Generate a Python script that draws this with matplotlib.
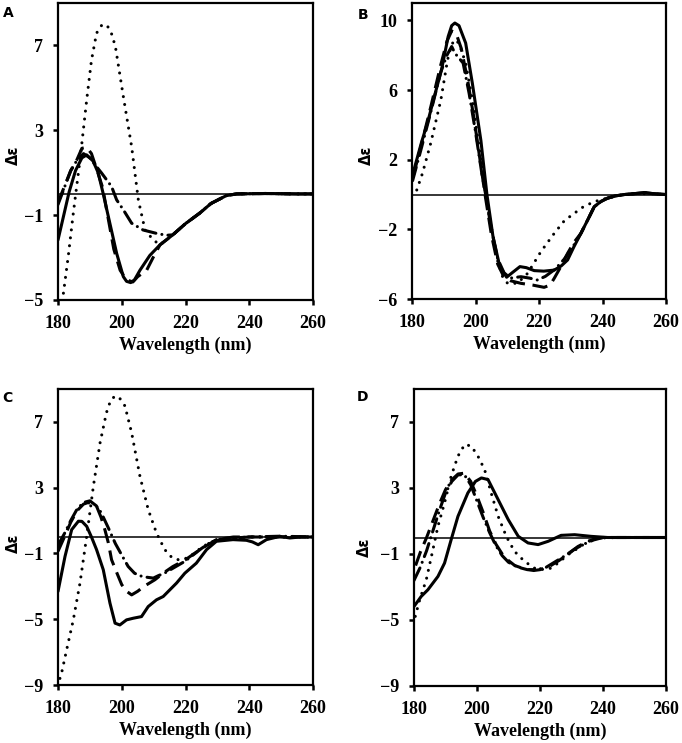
import numpy as np
import matplotlib
matplotlib.use('Agg')
import matplotlib.pyplot as plt

# ---- panel A ----
a_tail_x = [212, 216, 220, 224.5, 228, 232.8, 236, 245, 255, 260]
a_tail_y = [-2.4, -1.93, -1.4, -0.9, -0.45, -0.08, 0.0, 0.02, 0.0, 0.0]
a_solid_x = [180, 181.5, 183.5, 185.5, 187.5, 189, 191, 192.6, 194.2, 195.8, 198.4, 200.5, 201.5, 202.8, 204, 205.7, 208.8] + a_tail_x
a_solid_y = [-2.17, -1.2, 0.1, 1.1, 1.7, 1.84, 1.55, 1.0, 0.0, -1.07, -2.8, -3.9, -4.12, -4.18, -4.05, -3.6, -2.9] + a_tail_y
a_dot_x = [181.7, 183.2, 184.8, 186.9, 189, 190.5, 192.1, 193.7, 195.3, 196.7, 198, 200.5, 203.1, 205.2, 207.3, 209.9] + a_tail_x
a_dot_y = [-4.68, -2.96, -0.91, 1.6, 4.43, 6.3, 7.58, 7.95, 7.97, 7.6, 6.95, 4.59, 2.23, -0.28, -1.7, -2.17] + a_tail_y
a_dash_x = [180, 182.2, 184, 185.9, 187.5, 189, 190.5, 192.5, 194, 195.8, 197.5, 199.5, 201.5, 203.5, 205, 207.8, 210] + a_tail_x
a_dash_y = [-0.4, 0.42, 1.1, 1.6, 2.15, 2.2, 1.9, 1.0, 0.3, -1.2, -2.6, -3.6, -4.05, -4.15, -3.9, -3.6, -2.95] + a_tail_y
a_dd_x = [180, 182, 184, 186, 188, 190, 192, 193.7, 196.8, 198.4, 200.5, 203.1, 206.7, 210.9, 214] + a_tail_x[1:]
a_dd_y = [-0.5, 0.3, 1.1, 1.6, 1.9, 1.7, 1.3, 0.98, 0.35, -0.28, -0.75, -1.38, -1.7, -1.86, -1.95] + a_tail_y[1:]

# ---- panel B ----
b_tail_x = [233.2, 235.5, 237.4, 239.5, 241.6, 244, 246.9, 250, 253.2, 256, 260]
b_tail_y = [-2.23, -1.4, -0.7, -0.4, -0.21, -0.08, 0.0, 0.05, 0.11, 0.05, 0.0]
b_solid_x = [180.6, 183, 185, 187, 189.3, 191.4, 192.5, 193.5, 194.8, 196.9, 199, 201.7, 203.6, 205.5, 207.6, 209.8, 211.5, 214, 216, 218.5, 221.5, 224.8, 227, 229, 231] + b_tail_x
b_solid_y = [1.41, 3.0, 4.2, 5.6, 7.17, 9.08, 9.7, 9.85, 9.7, 8.7, 6.4, 3.1, 0.0, -2.4, -4.1, -4.75, -4.5, -4.14, -4.2, -4.37, -4.4, -4.34, -4.1, -3.76, -3.0] + b_tail_y
b_dot_x = [181.5, 183.3, 185.9, 189.1, 191.2, 192.3, 193.3, 194.8, 196.9, 199, 201.7, 203.8, 206.9, 208.5, 210.1, 213.2, 216.4, 220.6, 224.8, 228, 231.1, 234, 237.4, 241.6, 245, 250, 255, 260]
b_dot_y = [0.26, 1.22, 2.95, 5.44, 7.74, 8.5, 8.89, 8.7, 7.55, 5.44, 1.99, -0.7, -3.76, -4.7, -5.1, -5.1, -4.53, -3.28, -2.23, -1.5, -1.08, -0.7, -0.41, -0.2, -0.05, 0.05, 0.05, 0.0]
b_dash_x = [180.3, 183, 186, 189, 191, 192.5, 194, 195.5, 197.5, 199.5, 201.5, 203, 205, 207, 209, 211, 214.3, 218, 221.6, 223.5, 224.8, 227, 229, 231] + b_tail_x
b_dash_y = [1.0, 2.9, 5.1, 7.4, 8.8, 9.4, 9.2, 8.4, 6.6, 4.4, 1.9, 0.0, -2.3, -4.0, -4.75, -4.95, -5.1, -5.2, -5.33, -5.2, -4.81, -4.1, -3.38, -2.75] + b_tail_y
b_dd_x = [180.2, 183, 186, 189, 191, 192.5, 193.5, 196.1, 198, 200, 202, 203.2, 205, 207, 209, 211, 214.3, 217, 219.5, 222, 225, 228, 231] + b_tail_x
b_dd_y = [0.8, 2.7, 4.8, 7.0, 8.0, 8.5, 8.12, 7.55, 5.8, 3.6, 1.2, 0.0, -2.0, -3.7, -4.5, -4.8, -4.72, -4.8, -4.91, -4.7, -4.3, -3.7, -2.9] + b_tail_y

# ---- panel C ----
c_solid_x = [180, 182.2, 184.3, 186.4, 187.5, 189, 190.5, 192.1, 194.2, 196.3, 197.9, 199.4, 201.5, 203.6, 206.2, 208.3, 210.9, 213, 215.1, 217.2, 219.8, 223.4, 226.6, 229.7, 234.9, 239.1, 241, 242.8, 245.4, 249.6, 252.7, 256, 260]
c_solid_y = [-3.31, -1.18, 0.45, 0.96, 0.95, 0.65, 0.0, -0.77, -1.99, -4.02, -5.24, -5.35, -5.04, -4.94, -4.84, -4.23, -3.82, -3.62, -3.21, -2.8, -2.2, -1.59, -0.77, -0.26, -0.16, -0.2, -0.3, -0.47, -0.16, 0.04, -0.06, 0.0, 0.0]
c_dot_x = [180.6, 181.1, 182.7, 184.8, 186.9, 189, 191.1, 193.2, 195.2, 196.5, 197.9, 199.5, 201, 203.1, 205.7, 208.3, 210.9, 213.5, 215.5, 217.2, 219.5, 221.4, 225.5, 229.7, 235, 240, 250, 260]
c_dot_y = [-8.6, -8.29, -6.87, -5.04, -2.8, 0.04, 3.09, 5.73, 7.56, 8.3, 8.58, 8.4, 7.97, 6.34, 3.7, 1.67, 0.24, -0.77, -1.2, -1.38, -1.35, -1.18, -0.57, -0.16, -0.05, 0.0, 0.0, 0.0]
c_dash_x = [180, 182, 184, 186, 188, 189.5, 191, 192.1, 193.5, 194.7, 195.8, 196.8, 198.5, 200, 201.5, 203.1, 205, 207, 210.4, 213, 216, 220, 224.5, 229.7, 235, 245, 260]
c_dash_y = [-0.87, 0.0, 0.9, 1.6, 2.0, 2.1, 1.95, 1.87, 1.2, 0.45, -0.36, -1.38, -2.2, -2.9, -3.3, -3.52, -3.3, -3.0, -2.6, -2.2, -1.8, -1.38, -0.77, -0.16, 0.0, 0.0, 0.0]
c_dd_x = [180, 182, 184, 186, 188, 190, 192, 193.5, 195.8, 198, 200, 202, 204, 205.7, 208, 209.9, 211.5, 213.5, 216.5, 219.8, 222, 225, 228, 232, 240, 250, 260]
c_dd_y = [-0.5, 0.2, 1.0, 1.7, 2.1, 2.2, 1.9, 1.5, 0.55, -0.4, -1.1, -1.79, -2.2, -2.36, -2.45, -2.5, -2.35, -2.19, -1.85, -1.48, -1.15, -0.7, -0.3, -0.1, 0.0, 0.05, 0.0]

# ---- panel D ----
d_solid_x = [180, 182.3, 184.4, 187.6, 189.7, 191.8, 193.95, 197.1, 199.5, 201.4, 203.5, 206.7, 209.9, 213.1, 216.2, 219.4, 222.6, 226.7, 231, 236.2, 241.5, 250, 260]
d_solid_y = [-4.18, -3.57, -3.17, -2.36, -1.55, -0.13, 1.28, 2.7, 3.4, 3.61, 3.51, 2.3, 1.09, 0.07, -0.33, -0.43, -0.23, 0.13, 0.17, 0.07, 0.0, 0.0, 0.0]
d_dot_x = [180.4, 181.8, 183.9, 186, 187.6, 189.7, 191.8, 193.95, 196.1, 198.2, 200.3, 202.4, 204.5, 206.7, 209.3, 211.9, 215.1, 218.3, 221.5, 223.6, 225.7, 228.9, 232.1, 235.3, 238.5, 245, 260]
d_dot_y = [-4.78, -3.78, -2.56, -0.74, 0.68, 2.1, 3.72, 4.93, 5.64, 5.54, 4.93, 4.12, 2.7, 1.29, 0.07, -0.84, -1.45, -1.86, -1.95, -1.85, -1.55, -1.04, -0.64, -0.23, -0.03, 0.0, 0.0]
d_dash_x = [180.5, 182, 184, 186, 188, 190, 192, 194, 196, 198, 200, 202, 204, 206, 208, 210, 212, 215, 218, 220, 223, 226, 229, 232, 235, 238, 240, 250, 260]
d_dash_y = [-1.7, -0.9, 0.0, 1.0, 2.0, 2.9, 3.5, 3.85, 3.9, 3.4, 2.5, 1.5, 0.4, -0.4, -1.0, -1.4, -1.7, -1.9, -2.0, -1.95, -1.75, -1.4, -1.0, -0.55, -0.25, -0.05, 0.0, 0.0, 0.0]
d_dd_x = [180, 182, 184, 186, 188, 190, 192, 194, 196, 198, 200, 202, 204, 206, 208, 210, 213, 216, 219, 222, 225, 228, 231, 234, 237, 240, 250, 260]
d_dd_y = [-2.6, -1.8, -0.8, 0.4, 1.6, 2.7, 3.4, 3.8, 3.8, 3.2, 2.2, 1.2, 0.3, -0.5, -1.1, -1.5, -1.8, -1.95, -1.95, -1.8, -1.45, -1.1, -0.7, -0.4, -0.15, 0.0, 0.0, 0.0]

panels = [
    dict(letter='A', ylim=(-5, 9), yticks=[-5, -1, 3, 7],
         solid=(a_solid_x, a_solid_y), dot=(a_dot_x, a_dot_y),
         dash=(a_dash_x, a_dash_y), dd=(a_dd_x, a_dd_y)),
    dict(letter='B', ylim=(-6, 11), yticks=[-6, -2, 2, 6, 10],
         solid=(b_solid_x, b_solid_y), dot=(b_dot_x, b_dot_y),
         dash=(b_dash_x, b_dash_y), dd=(b_dd_x, b_dd_y)),
    dict(letter='C', ylim=(-9, 9), yticks=[-9, -5, -1, 3, 7],
         solid=(c_solid_x, c_solid_y), dot=(c_dot_x, c_dot_y),
         dash=(c_dash_x, c_dash_y), dd=(c_dd_x, c_dd_y)),
    dict(letter='D', ylim=(-9, 9), yticks=[-9, -5, -1, 3, 7],
         solid=(d_solid_x, d_solid_y), dot=(d_dot_x, d_dot_y),
         dash=(d_dash_x, d_dash_y), dd=(d_dd_x, d_dd_y)),
]

# axes boxes in pixels: left, top, right, bottom
boxes = [(58, 3, 313, 300), (412, 3, 666, 299), (58, 389, 313, 685), (414, 389, 666, 686)]
letter_pos = [(8, 13), (363, 15), (7, 398), (363, 397)]
ylab_pos = [(13, 155), (366, 155), (13, 543), (364, 547)]
W, H = 682, 743

fig = plt.figure(figsize=(6.82, 7.43), dpi=100)
tickfont = {'family': 'Liberation Serif', 'weight': 'bold', 'size': 13}

for p, (l, t, r, b), (lx, ly), (yx, yy) in zip(panels, boxes, letter_pos, ylab_pos):
    ax = fig.add_axes([l / W, 1 - b / H, (r - l) / W, (b - t) / H])
    ax.axhline(0, color='black', lw=1.1, zorder=1)
    ax.plot(*p['solid'], color='black', lw=2.2, solid_capstyle='round', solid_joinstyle='round', zorder=3)
    ax.plot(*p['dot'], color='black', lw=2.2, linestyle=(0, (0.01, 2.6)), dash_capstyle='round', zorder=3)
    ax.plot(*p['dash'], color='black', lw=2.2, linestyle=(0, (5, 2.5)), zorder=3)
    ax.plot(*p['dd'], color='black', lw=2.2, linestyle=(0, (4.5, 2, 0.01, 2)), dash_capstyle='round', zorder=3)
    ax.set_xlim(180, 260)
    ax.set_ylim(*p['ylim'])
    ax.set_xticks([180, 200, 220, 240, 260])
    ax.set_yticks(p['yticks'])
    ax.tick_params(direction='out', length=3.5, width=1.8, pad=7)
    for lab in ax.get_xticklabels() + ax.get_yticklabels():
        lab.set_fontproperties(tickfont)
    for s in ax.spines.values():
        s.set_linewidth(1.6)
    ax.set_xlabel('Wavelength (nm)', fontfamily='Liberation Serif', fontweight='bold', fontsize=13, labelpad=4)
    fig.text(yx / W, 1 - yy / H, 'Δε', fontfamily='DejaVu Sans', fontweight='bold', fontsize=10.5,
             rotation=90, ha='center', va='center')
    fig.text(lx / W, 1 - ly / H, p['letter'], fontfamily='DejaVu Sans', fontweight='bold', fontsize=10,
             ha='center', va='center')

fig.savefig('out.png', dpi=100)
